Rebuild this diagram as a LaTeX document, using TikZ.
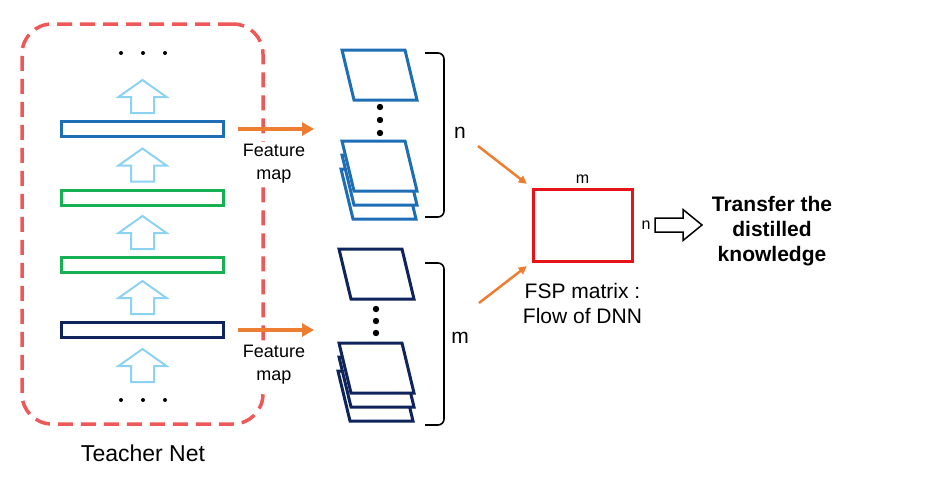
\documentclass[tikz,border=0pt]{standalone}
\usepackage{fontspec}
\setmainfont{Liberation Sans}
\usetikzlibrary{arrows.meta, positioning}

\definecolor{netred}{RGB}{238,88,88}
\definecolor{layerblue}{RGB}{30,110,182}
\definecolor{layergreen}{RGB}{24,176,84}
\definecolor{layernavy}{RGB}{14,36,90}
\definecolor{flowblue}{RGB}{140,210,242}
\definecolor{maporange}{RGB}{237,125,49}
\definecolor{fspred}{RGB}{230,20,24}

\begin{document}
\begin{tikzpicture}[
      x=1pt, y=-1pt,
      teacher/.style={
          rectangle,
          draw=netred,
          line width=3.5pt,
          dash pattern=on 15pt off 8pt,
          rounded corners=30pt,
          minimum width=241pt,
          minimum height=400pt
        },
      layer/.style={
          rectangle,
          draw,
          line width=3pt,
          inner sep=0pt,
          minimum width=162pt,
          minimum height=15pt
        },
      maplabel/.style={
          fill=white,
          align=center,
          inner sep=2pt,
          font=\fontsize{18}{23}\selectfont
        },
      fspbox/.style={
          rectangle,
          draw=fspred,
          line width=3pt,
          minimum width=99pt,
          minimum height=72pt
        },
      fsplabel/.style={
          align=center,
          inner sep=0pt,
          font=\fontsize{21}{25}\selectfont
        },
      dimlabel/.style={
          inner sep=0pt,
          font=\fontsize{16}{19}\selectfont
        },
      transfer/.style={
          align=center,
          font=\bfseries\fontsize{21}{25}\selectfont
        },
      maparrow/.style={
          -{Triangle[length=12pt,width=13pt]},
          maporange,
          line width=4.5pt
        },
      fsparrow/.style={
          -{Triangle[length=8pt,width=8pt]},
          maporange,
          line width=2.5pt,
          shorten >=6pt
        },
      brace/.style={
          line width=1.6pt,
          rounded corners=6pt
        },
      uparrow/.pic={
          \draw[flowblue, line width=2pt] (-11.5,0) -- (-11.5,-16) -- (-24,-16)
            -- (0,-33) -- (24,-16) -- (11.5,-16) -- (11.5,0) -- cycle;
        },
      fmap/.pic={
          \draw[line width=3pt, fill=white] (0,0) -- (63,0) -- (75,50) -- (12,50) -- cycle;
        },
      fmstack/.pic={
          \pic at (-1,28) {fmap};
          \pic at (0,14) {fmap};
          \pic at (0,0) {fmap};
        },
      bigarrow/.pic={
          \draw[line width=1.5pt, fill=white] (0,-7) -- (28,-7) -- (28,-15.5)
            -- (47,0) -- (28,15.5) -- (28,7) -- (0,7) -- cycle;
        }
    ]
    \useasboundingbox (0,0) rectangle (927,483);

    % Nodes
    \node[teacher] (teacher) at (142.5,224) {};
    \node[layer, draw=layerblue] (bar1) at (142.5,129) {};
    \node[layer, draw=layergreen] (bar2) at (142.5,197.5) {};
    \node[layer, draw=layergreen] (bar3) at (142.5,265) {};
    \node[layer, draw=layernavy] (bar4) at (142.5,330) {};
    \node[font=\fontsize{23}{27}\selectfont] (teachername) at (143,453) {Teacher Net};
    \node[maplabel] (map1) at (274,164) {Feature\\map};
    \node[maplabel] (map2) at (274,365) {Feature\\map};

    \node[fspbox] (fsp) at (582.5,225) {};
    \node[dimlabel, above=3.5pt of fsp] (fspm) {m};
    \node[dimlabel, right=8pt of fsp] (fspn) {n};
    \node[fsplabel, below=21pt of fsp] (fsptext) {FSP matrix :\\Flow of DNN};
    \node[transfer] (transfer) at (772,231) {Transfer the\\distilled\\knowledge};

    \node[inner sep=0pt, font=\fontsize{21}{25}\selectfont] (nlabel) at (460,133) {n};
    \node[inner sep=0pt, font=\fontsize{21}{25}\selectfont] (mlabel) at (460,338) {m};

    \coordinate (mapin1) at (314,129);
    \coordinate (mapin2) at (314,330);
    \coordinate (bracen) at (478,146);
    \coordinate (bracem) at (479,303);

    % Layers
    \fill (121,53) circle (2pt) (143,53) circle (2pt) (165,53) circle (2pt);
    \fill (121,400) circle (2pt) (143,400) circle (2pt) (165,400) circle (2pt);
    \pic at ([yshift=7pt]bar1.north) {uparrow};
    \pic at ([yshift=7pt]bar2.north) {uparrow};
    \pic at ([yshift=7pt]bar3.north) {uparrow};
    \pic at ([yshift=7pt]bar4.north) {uparrow};
    \pic at ([yshift=-43pt]bar4.south) {uparrow};

    % Feature maps
    \pic[color=layerblue] at (342,50) {fmap};
    \pic[color=layerblue] at (342,141) {fmstack};
    \fill (380,107) circle (3.2pt) (380,120) circle (3.2pt) (380,133) circle (3.2pt);
    \pic[color=layernavy] at (339,249) {fmap};
    \pic[color=layernavy] at (339,343) {fmstack};
    \fill (376,309) circle (3.2pt) (376,321) circle (3.2pt) (376,333) circle (3.2pt);

    \draw[brace] (425,53) -- (444,53) -- (444,217) -- (425,217);
    \draw[brace] (425,263) -- (444,263) -- (444,425) -- (425,425);

    % Arrows
    \draw[maparrow] ([xshift=13pt]bar1.east) -- (mapin1);
    \draw[maparrow] ([xshift=13pt]bar4.east) -- (mapin2);
    \draw[fsparrow] (bracen) -- (fsp.north west);
    \draw[fsparrow] (bracem) -- (fsp.south west);
    \pic at ([xshift=21.5pt]fsp.east) {bigarrow};

  \end{tikzpicture}
\end{document}
